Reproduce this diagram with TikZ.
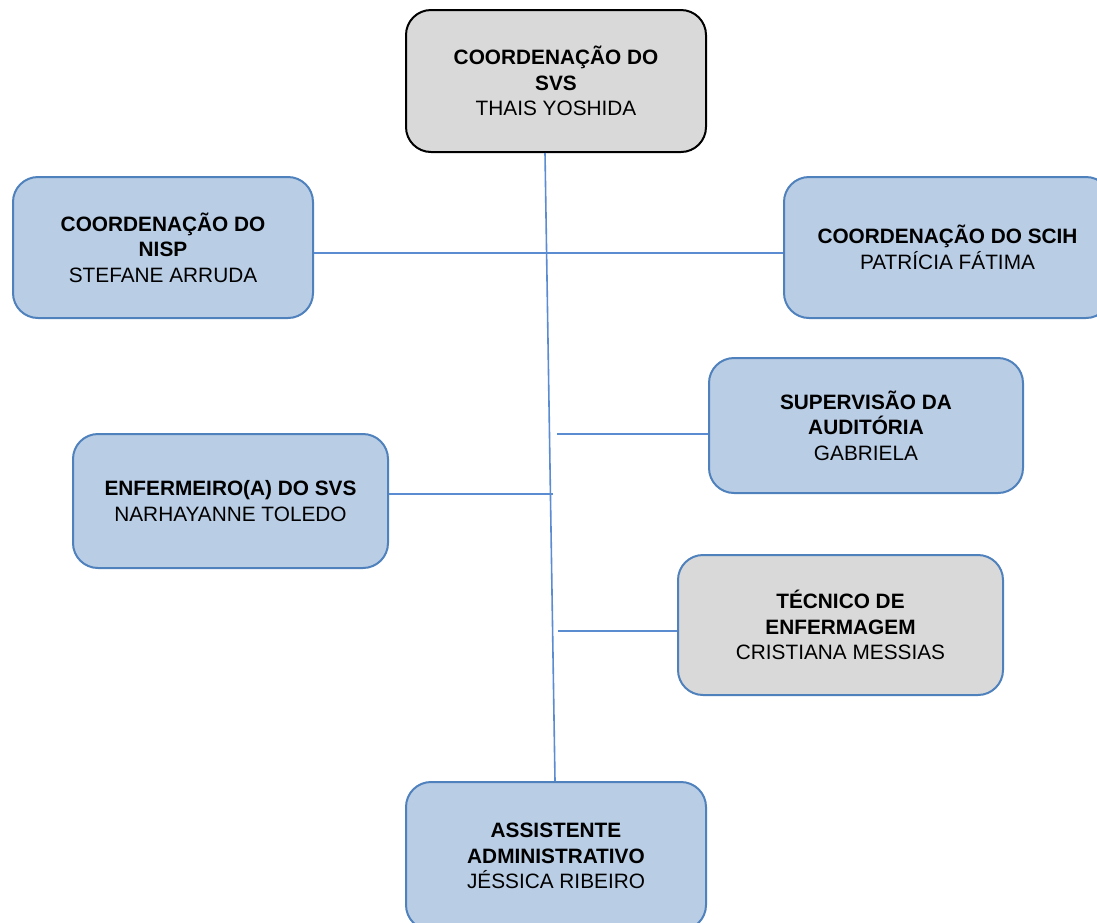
\documentclass[tikz,border=0pt]{standalone}
\usepackage{fontspec}
\setmainfont{Liberation Sans}
\definecolor{bluefill}{HTML}{B9CDE5}
\definecolor{blueline}{HTML}{4F81BD}
\definecolor{grayfill}{HTML}{D9D9D9}
\definecolor{connline}{HTML}{5B8BD0}
\begin{document}
\begin{tikzpicture}[x=1pt,y=-1pt,
  box/.style={rectangle, rounded corners=25pt, inner sep=0pt, line width=2pt, align=center,
    font=\fontsize{20.8}{25.5}\selectfont, text=black},
  bluebox/.style={box, draw=blueline, fill=bluefill},
  graybox/.style={box, draw=blueline, fill=grayfill},
  topbox/.style={box, draw=black, fill=grayfill},
  conn/.style={draw=connline, line width=1.6pt}]
\path[use as bounding box] (0,0) rectangle (1097,922);
\clip (0,0) rectangle (1097,922);
\node[topbox, minimum width=300pt, minimum height=142pt] (top) at (556,81)
  {\textbf{COORDENAÇÃO DO}\\\textbf{SVS}\\THAIS YOSHIDA};
\node[bluebox, minimum width=300pt, minimum height=141pt] (nisp) at (163,247.5)
  {\textbf{COORDENAÇÃO DO}\\\textbf{NISP}\\STEFANE ARRUDA};
\node[bluebox, minimum width=327pt, minimum height=141pt] (scih) at (947.5,247.5)
  {\textbf{COORDENAÇÃO DO SCIH}\\PATRÍCIA FÁTIMA};
\node[bluebox, minimum width=314pt, minimum height=135pt] (aud) at (866,425.5)
  {\textbf{SUPERVISÃO DA}\\\textbf{AUDITÓRIA}\\GABRIELA};
\node[bluebox, minimum width=315pt, minimum height=134pt] (enf) at (230.5,501)
  {\textbf{ENFERMEIRO(A) DO SVS}\\NARHAYANNE TOLEDO};
\node[graybox, minimum width=325pt, minimum height=140pt] (tec) at (840.5,625)
  {\textbf{TÉCNICO DE}\\\textbf{ENFERMAGEM}\\CRISTIANA MESSIAS};
\node[bluebox, minimum width=300pt, minimum height=148pt] (asst) at (556,856)
  {\textbf{ASSISTENTE}\\\textbf{ADMINISTRATIVO}\\JÉSSICA RIBEIRO};
\coordinate (vtop) at ([xshift=-11pt]top.south);
\coordinate (vbot) at ([xshift=-1pt]asst.north);
\coordinate (a1) at (557,434);
\coordinate (e1) at (553,494);
\coordinate (t1) at (558,631);
\coordinate (h1) at (313,253);
\path[conn] (vtop) -- (vbot);
\path[conn] (h1 -| nisp.east) -- (h1 -| scih.west);
\path[conn] (a1) -- (a1 -| aud.west);
\path[conn] (e1 -| enf.east) -- (e1);
\path[conn] (t1) -- (t1 -| tec.west);
\end{tikzpicture}
\end{document}
